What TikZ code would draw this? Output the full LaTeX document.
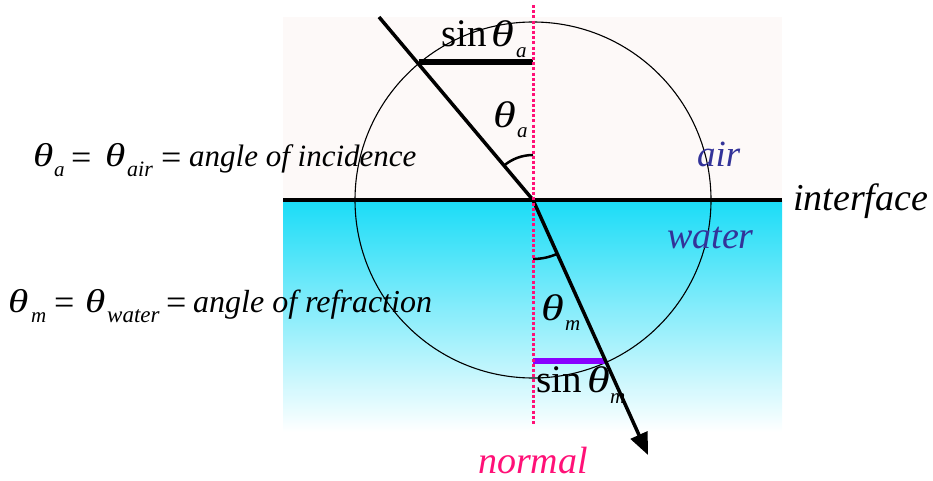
\documentclass[tikz,border=0pt]{standalone}
\usepackage{fontspec}
\setmainfont{Liberation Serif}
\usetikzlibrary{arrows.meta}
\definecolor{airbg}{HTML}{FDF9F8}
\definecolor{watertop}{HTML}{1ADCF7}
\definecolor{watermid}{HTML}{8FE6F8}
\definecolor{normalpink}{HTML}{FF1177}
\definecolor{medium}{HTML}{333399}
\definecolor{sinbar}{HTML}{8800FF}
\newcommand{\fs}[1]{\fontsize{#1}{#1}\selectfont}
\newcommand{\mytheta}{\scalebox{1.25}[1]{\itshape θ}}
\begin{document}
\begin{tikzpicture}[x=1pt,y=-1pt,
  ray/.style={line width=3.5pt},
  anglearc/.style={line width=2.5pt},
  sinline/.style={line width=6pt},
  lbl/.style={inner sep=0pt, anchor=base west},
  big/.style={lbl, font=\fs{37}},
  eqf/.style={lbl, font=\fs{33}},
  eqsign/.style={lbl, font=\fs{36}},
  sub/.style={lbl, font=\fs{21}\itshape},
  medlbl/.style={lbl, text=medium, font=\fs{37}\itshape}]
\useasboundingbox (0,0) rectangle (933,481);
% backgrounds
\fill[airbg] (283,17) rectangle (782,200);
\shade[top color=watertop, middle color=watermid, bottom color=white, shading angle=0] (283,200) rectangle (782,432);
% key points
\coordinate (O) at (533,200);
\coordinate (src) at (379,17);
\coordinate (tip) at (648,455);
\coordinate (Pa) at (418.6,62);
\coordinate (Na) at (533,62);
\coordinate (Pm) at (606,361);
\coordinate (Nm) at (533,361);
\coordinate (ntop) at (533,5);
\coordinate (nbot) at (533,425);
\coordinate (ifl) at (283,200);
\coordinate (ifr) at (782,200);
% circle
\draw[line width=1.1pt] (O) circle[radius=178];
% interface
\draw[line width=4pt] (ifl) -- (ifr);
% sin bars
\draw[sinline] (Pa) -- (Na);
\draw[line width=5.5pt, sinbar] (Nm) -- (Pm);
% rays
\draw[ray] (src) -- (O);
\draw[ray, -{Triangle[length=22pt,width=18pt]}] (O) -- (tip);
% angle arcs
\draw[anglearc] (533,155) arc[start angle=-90, end angle=-130.1, radius=45];
\draw[anglearc] (533,259) arc[start angle=90, end angle=65.7, radius=59];
% normal
\draw[normalpink, line width=3pt, dash pattern=on 3pt off 2.2pt] (ntop) -- (nbot);
% sin theta_a
\node[lbl, font=\fs{39}] (sina) at (441,47) {sin};
\node[big] (sinath) at (491,47) {\mytheta};
\node[sub] (sinasub) at (516,58) {a};
% theta_a
\node[big] (tha) at (493,128) {\mytheta};
\node[sub] (thasub) at (517,138) {a};
% theta_m
\node[big] (thm) at (541,320) {\mytheta};
\node[sub] (thmsub) at (565,330) {m};
% sin theta_m
\node[lbl, font=\fs{39}] (sinm) at (536,392) {sin};
\node[big] (sinmth) at (587,392) {\mytheta};
\node[sub] (sinmsub) at (610,403) {m};
% region labels
\node[medlbl] (air) at (697,167) {air};
\node[lbl, text=medium, font=\fs{38}\itshape] (water) at (667,248) {water};
\node[lbl, font=\fs{38}\itshape] (iface) at (793,210) {interface};
\node[lbl, text=normalpink, font=\fs{38}\itshape] (normal) at (478,473) {normal};
% equation 1
\node[eqf] (e1a) at (33,167) {\mytheta};
\node[sub] (e1b) at (54,176) {a};
\node[eqsign] (e1c) at (71,169) {=};
\node[eqf] (e1d) at (105,167) {\mytheta};
\node[lbl, font=\fs{22}\itshape] (e1e) at (127,176) {air};
\node[eqsign] (e1f) at (161,169) {=};
\node[lbl, font=\fs{31}\itshape] (e1g) at (189,167) {angle of incidence};
% equation 2
\node[eqf] (e2a) at (8,312) {\mytheta};
\node[sub] (e2b) at (31,322) {m};
\node[eqsign] (e2c) at (54,314) {=};
\node[eqf] (e2d) at (85,312) {\mytheta};
\node[lbl, font=\fs{23}\itshape] (e2e) at (107,322) {water};
\node[eqsign] (e2f) at (166,314) {=};
\node[lbl, font=\fs{32}\itshape] (e2g) at (193,312) {angle of refraction};
\end{tikzpicture}
\end{document}
